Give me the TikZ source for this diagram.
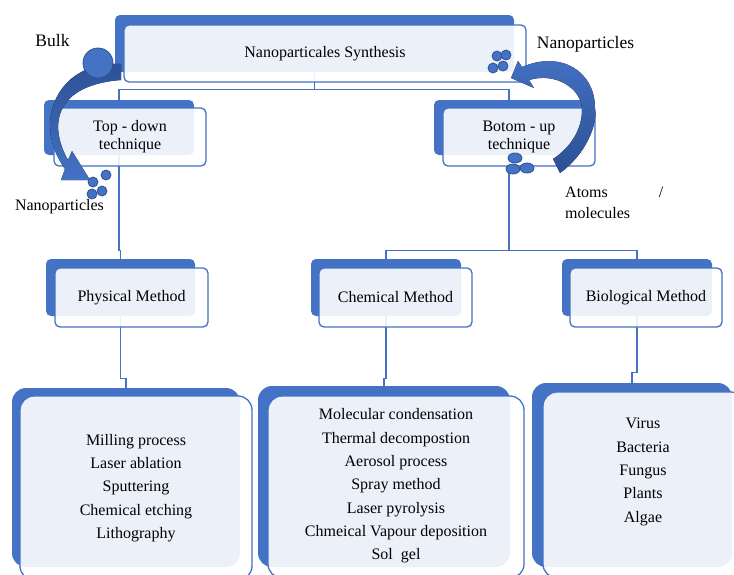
\documentclass[tikz,border=0pt]{standalone}
\usepackage{fontspec}
\setmainfont{Liberation Serif}
\newfontfamily\tnr{Liberation Serif}
\definecolor{sblue}{RGB}{68,114,196}
\definecolor{dblue}{RGB}{47,82,143}
\definecolor{ablue}{RGB}{44,80,148}
\begin{document}
\begin{tikzpicture}[x=1pt,y=-1pt,
  backbox/.style={fill=sblue, rounded corners=5pt, inner sep=0pt, minimum width=150pt, minimum height=56pt},
  frontbox/.style={fill=white, fill opacity=0.9, text opacity=1, draw=sblue, line width=1.3pt, rounded corners=5pt, inner sep=0pt, minimum width=152pt, minimum height=58pt, align=center, font=\tnr\fontsize{16}{18}\selectfont},
  lbback/.style={fill=sblue, rounded corners=14pt, inner sep=0pt},
  lbfront/.style={fill=white, fill opacity=0.9, draw=sblue, line width=1.3pt, rounded corners=14pt, inner sep=0pt},
  listtext/.style={align=center, font=\tnr\fontsize{16}{23.3}\selectfont, inner sep=0pt},
  conn/.style={draw=sblue, line width=1.2pt},
  dot/.style={fill=sblue, draw=dblue, line width=0.8pt},
  lbl/.style={font=\tnr\fontsize{16}{18}\selectfont, inner sep=0pt},
  biglbl/.style={font=\tnr\fontsize{17.5}{20}\selectfont, inner sep=0pt}
]
\useasboundingbox (0,0) rectangle (734,574);
\clip (0,0) rectangle (734,574);

% back boxes
\node[backbox, minimum width=399pt, minimum height=57pt] (topB) at (314.5,43.5) {};
\node[backbox, minimum height=55pt] (tdB) at (119,127.5) {};
\node[backbox, minimum height=55pt] (buB) at (509,127.5) {};
\node[backbox, minimum width=149pt, minimum height=57pt] (physB) at (120.5,287.5) {};
\node[backbox, minimum height=57pt] (chemB) at (386,287.5) {};
\node[backbox, minimum height=57pt] (bioB) at (637,287.5) {};
\node[lbback, minimum width=228pt, minimum height=179pt] (physLB) at (126,477.5) {};
\node[lbback, minimum width=252pt, minimum height=181pt] (chemLB) at (384,476.5) {};
\node[lbback, minimum width=200pt, minimum height=184pt] (bioLB) at (632,475) {};

% connectors
\draw[conn] (topB.south) -- ++(0,17) coordinate (tj);
\draw[conn] (tj) -| (tdB.north);
\draw[conn] (tj) -| (buB.north);
\draw[conn] (tdB.south) -- ++(0,95) -| (physB.north);
\draw[conn] (buB.south) -- ++(0,95) coordinate (bj);
\draw[conn] (bj) -| (chemB.north);
\draw[conn] (bj) -| (bioB.north);
\draw[conn] (physB.south) -- ++(0,62) -| (physLB.north);
\draw[conn] (chemB.south) -- ++(0,62) -| (chemLB.north);
\draw[conn] (bioB.south) -- ++(0,56) -| (bioLB.north);

% front boxes
\node[frontbox, minimum width=402pt, minimum height=57pt] (top) at (325,53.5) {Nanoparticales Synthesis};
\node[frontbox] (td) at (130,137) {Top - down\\technique};
\node[frontbox] (bu) at (519,137) {Botom - up\\technique};
\node[frontbox, minimum width=153pt, minimum height=59pt] (phys) at (131.5,297.5) {Physical Method};
\node[frontbox, minimum width=153pt, minimum height=59pt] (chem) at (395.5,297.5) {Chemical Method};
\node[frontbox, minimum height=59pt] (bio) at (646,297.5) {Biological Method};
\node[lbfront, minimum width=232pt, minimum height=184pt] (physLF) at (136,488) {};
\node[lbfront, minimum width=256pt, minimum height=182pt] (chemLF) at (396,487) {};
\node[lbfront, minimum width=202pt, minimum height=186pt] (bioLF) at (644,485) {};

\node[listtext] (physT) at (136,488) {Milling process\\Laser ablation\\Sputtering\\Chemical etching\\Lithography};
\node[listtext] (chemT) at (396,486) {Molecular condensation\\Thermal decompostion\\Aerosol process\\Spray method\\Laser pyrolysis\\Chmeical Vapour deposition\\Sol\ \ gel};
\node[listtext] (bioT) at (643,472) {Virus\\Bacteria\\Fungus\\Plants\\Algae};

% left curved arrow (bulk -> nanoparticles)
\fill[top color=ablue, bottom color=sblue] (121,64) .. controls (60,60) and (30,120) .. (65,169) -- (61,180) -- (90,180) -- (72,151) -- (68,160) .. controls (48,125) and (55,85) .. (121,80) -- cycle;
\filldraw[dot] (98,63) circle (15);
\filldraw[dot] (106,175) circle (5);
\filldraw[dot] (93,182) circle (5);
\filldraw[dot] (102,191) circle (5);
\filldraw[dot] (92,194) circle (5);

% right curved arrow (atoms -> nanoparticles)
\fill[top color=sblue, bottom color=ablue] (560,173) .. controls (585,155) and (598,125) .. (595,108) .. controls (595,72) and (562,50) .. (522,67) -- (518,61) -- (511,78) -- (534,88) -- (529,80) .. controls (555,72) and (582,88) .. (582,110) .. controls (582,130) and (570,148) .. (553,159) -- cycle;
\filldraw[dot] (497,56) circle (5);
\filldraw[dot] (506,55) circle (5);
\filldraw[dot] (493,68) circle (5);
\filldraw[dot] (503,66) circle (5);
\filldraw[dot] (515,158) ellipse (7 and 5);
\filldraw[dot] (513,169) ellipse (7 and 5);
\filldraw[dot] (527,168) ellipse (7 and 5);

% labels
\node[biglbl] (bulk) at (52.5,41) {Bulk};
\node[biglbl] (npR) at (585.5,44) {Nanoparticles};
\node[lbl] (npL) at (59.5,207) {Nanoparticles};
\node[lbl, anchor=west] (atoms) at (565,192) {Atoms};
\node[lbl] (slash) at (661,192) {/};
\node[lbl, anchor=west] (mol) at (565,213) {molecules};
\end{tikzpicture}
\end{document}
